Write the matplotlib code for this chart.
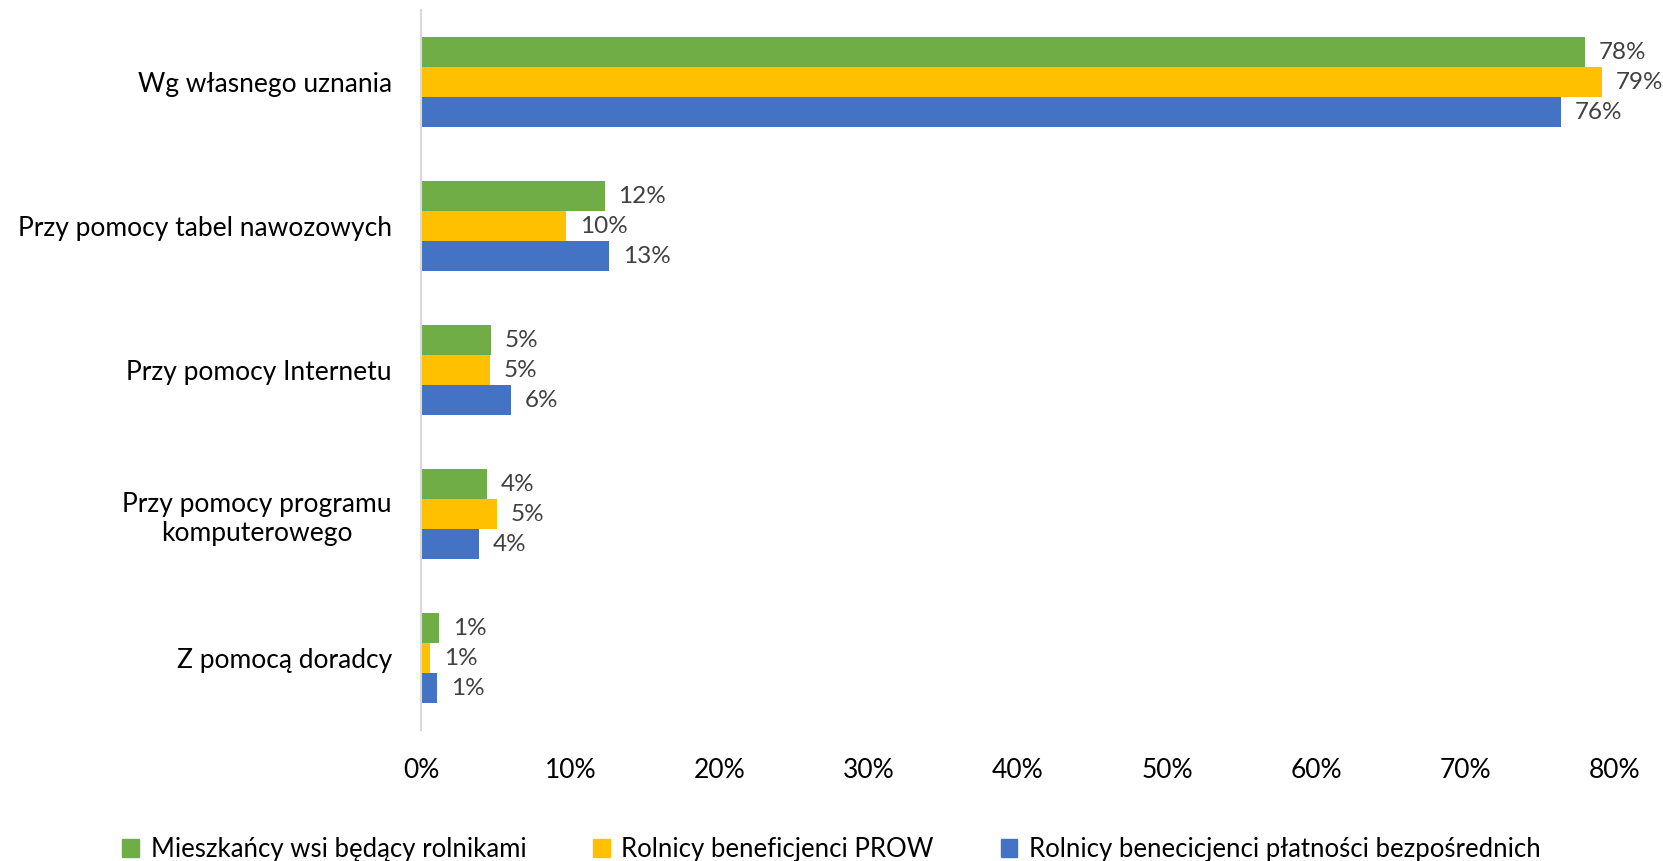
import numpy as np
import matplotlib.pyplot as plt
from matplotlib.patches import Patch

plt.rcParams['font.family'] = ['Lato', 'DejaVu Sans']

categories = ['Wg własnego uznania', 'Przy pomocy tabel nawozowych',
              'Przy pomocy Internetu', 'Przy pomocy programu\nkomputerowego',
              'Z pomocą doradcy']
series_names = ['Mieszkańcy wsi będący rolnikami', 'Rolnicy beneficjenci PROW',
                'Rolnicy benecicjenci płatności bezpośrednich']
mieszkancy = [0.780, 0.123, 0.047, 0.044, 0.012]
prow = [0.791, 0.097, 0.046, 0.051, 0.006]
platnosci = [0.764, 0.126, 0.060, 0.039, 0.011]
colors = ['#70AD47', '#FFC000', '#4472C4']

fig = plt.figure(figsize=(16.63, 8.61), dpi=100)
ax = fig.add_axes([0.2532, 0.152, 0.7179, 0.836])

y = np.arange(len(categories))
h = 0.208
for k, (vals, col) in enumerate(zip([mieszkancy, prow, platnosci], colors)):
    pos = y + (k - 1) * h
    ax.barh(pos, vals, height=h, color=col)
    for p, v in zip(pos, vals):
        ax.annotate(f'{v:.0%}', (v, p), xytext=(10, 0), textcoords='offset points',
                    va='center', ha='left', fontsize=17.5, color='#404040')

ax.set_ylim(len(categories) - 0.5, -0.5)
ax.set_xlim(0, 0.8)
ax.set_xticks(np.arange(0, 0.81, 0.1))
ax.set_xticklabels([f'{t:.0%}' for t in np.arange(0, 0.81, 0.1)])
ax.set_yticks(y)
ax.set_yticklabels(categories, multialignment='center')
ax.tick_params(axis='x', length=0, labelsize=19, pad=20, labelcolor='black')
ax.tick_params(axis='y', length=0, labelsize=19, pad=21, labelcolor='black')
for s in ['top', 'right', 'bottom']:
    ax.spines[s].set_visible(False)
ax.spines['left'].set_color('#d9d9d9')
ax.spines['left'].set_linewidth(1.5)

handles = [Patch(color=c, label=n) for c, n in zip(colors, series_names)]
fig.legend(handles=handles, loc='lower center', ncol=3, frameon=False,
           bbox_to_anchor=(0.5, -0.028), fontsize=18.5, handlelength=0.65,
           handleheight=0.65, handletextpad=0.45, columnspacing=2.6)

plt.savefig('out.png', dpi=100)
